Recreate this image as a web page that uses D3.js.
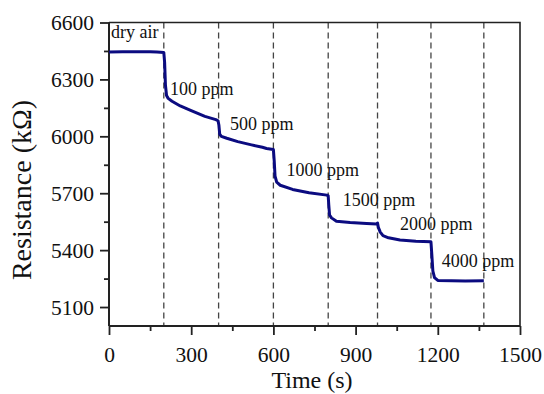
<!DOCTYPE html>
<html>
<head>
<meta charset="utf-8">
<script src="https://cdn.jsdelivr.net/npm/d3@7"></script>
<style>
  body { margin: 0; background: #fff; }
  text { font-family: "Liberation Serif", "Times New Roman", serif; fill: #111; }
</style>
</head>
<body>
<script>
// resistance trace
var times = [0, 50, 100, 150, 175, 200, 203, 206, 210, 216, 230, 260, 300, 350, 390, 398,
  401, 404, 410, 430, 470, 520, 560, 575, 600,
  603, 606, 612, 625, 670, 730, 795, 800,
  802, 805, 812, 830, 880, 940, 977, 980, 983, 990, 1000, 1020, 1062, 1120, 1175,
  1178, 1182, 1188, 1200, 1250, 1300, 1368];
var resistance = [6445, 6446, 6446, 6446, 6444, 6442, 6390, 6270, 6215, 6200, 6185, 6160, 6135, 6105, 6088, 6082,
  6060, 6012, 6000, 5990, 5972, 5955, 5942, 5936, 5930,
  5870, 5790, 5758, 5742, 5720, 5702, 5690, 5686,
  5640, 5585, 5570, 5552, 5546, 5541, 5538, 5543, 5520, 5495, 5476, 5465, 5453, 5447, 5444,
  5380, 5290, 5255, 5240, 5238, 5237, 5238];

// gas switching times (dashed lines)
var switchTimes = [200, 400, 600, 800, 980, 1175, 1368];
var gasLabels = ["dry air", "100 ppm", "500 ppm", "1000 ppm", "1500 ppm", "2000 ppm", "4000 ppm"];
var labelT = [7, 223, 442, 648, 853, 1062, 1214];
var labelR = [6518, 6216, 6031, 5793, 5631, 5507, 5312];

var xTicks = [0, 300, 600, 900, 1200, 1500];
var yTicks = [5100, 5400, 5700, 6000, 6300, 6600];

var width = 544, height = 394;
var mLeft = 109, mRight = 520, mTop = 22.5, mBottom = 326;

var svg = d3.select("body").append("svg")
    .attr("width", width)
    .attr("height", height);

var x = d3.scaleLinear().domain([0, 1500]).range([mLeft, mRight]);
var y = d3.scaleLinear().domain([5000, 6600]).range([mBottom, mTop]);

// dashed switching lines
svg.selectAll(".switch")
    .data(switchTimes)
  .enter().append("line")
    .attr("class", "switch")
    .attr("x1", function(d) { return x(d); })
    .attr("x2", function(d) { return x(d); })
    .attr("y1", mTop)
    .attr("y2", mBottom)
    .style("stroke", "#444")
    .style("stroke-width", 1.3)
    .style("stroke-dasharray", "6,4");

// minor ticks
var xMinor = d3.range(150, 1500, 300);
var yMinor = d3.range(5250, 6600, 300);

var xAxis = d3.axisBottom(x).tickValues(xTicks).tickSize(9).tickPadding(12).tickFormat(d3.format("d"));
var yAxis = d3.axisLeft(y).tickValues(yTicks).tickSize(9).tickPadding(6).tickFormat(d3.format("d"));

var gx = svg.append("g").attr("transform", "translate(0," + mBottom + ")").call(xAxis);
var gy = svg.append("g").attr("transform", "translate(" + mLeft + ",0)").call(yAxis);
svg.append("g").attr("transform", "translate(0," + mBottom + ")")
    .call(d3.axisBottom(x).tickValues(xMinor).tickSize(5).tickFormat(""))
    .select(".domain").remove();
svg.append("g").attr("transform", "translate(" + mLeft + ",0)")
    .call(d3.axisLeft(y).tickValues(yMinor).tickSize(5).tickFormat(""))
    .select(".domain").remove();

svg.selectAll(".tick line").style("stroke", "#222").style("stroke-width", 1.8);
gx.select(".domain").attr("d", "M" + mLeft + ",0H" + mRight).style("stroke", "#222").style("stroke-width", 2);
gy.select(".domain").attr("d", "M0," + mBottom + "V" + mTop).style("stroke", "#222").style("stroke-width", 2);
gx.selectAll("text").style("font-size", "21.5px").style("font-family", "Liberation Serif").attr("fill", "#111");
gy.selectAll("text").style("font-size", "21.5px").style("font-family", "Liberation Serif").attr("fill", "#111").attr("dy", "0.34em");

// top and right frame
svg.append("path")
    .attr("d", "M" + mLeft + "," + mTop + "H" + mRight + "V" + mBottom)
    .style("fill", "none")
    .style("stroke", "#222")
    .style("stroke-width", 1.6);

// trace
var pts = times.map(function(t, i) { return [t, resistance[i]]; });
var line = d3.line()
    .x(function(d) { return x(d[0]); })
    .y(function(d) { return y(d[1]); });

svg.append("path")
    .datum(pts)
    .attr("d", line)
    .style("fill", "none")
    .style("stroke", "#0b0b80")
    .style("stroke-width", 3)
    .style("stroke-linejoin", "round");

// gas labels
svg.selectAll(".lbl")
    .data(gasLabels)
  .enter().append("text")
    .attr("class", "lbl")
    .attr("x", function(d, i) { return x(labelT[i]); })
    .attr("y", function(d, i) { return y(labelR[i]); })
    .style("font-size", "18px")
    .text(function(d) { return d; });

// axis titles
svg.append("text")
    .attr("x", 312)
    .attr("y", 388)
    .attr("text-anchor", "middle")
    .style("font-size", "24px")
    .text("Time (s)");

svg.append("text")
    .attr("transform", "translate(31," + 190 + ") rotate(-90)")
    .attr("text-anchor", "middle")
    .style("font-size", "28px")
    .text("Resistance (kΩ)");
</script>
</body>
</html>
